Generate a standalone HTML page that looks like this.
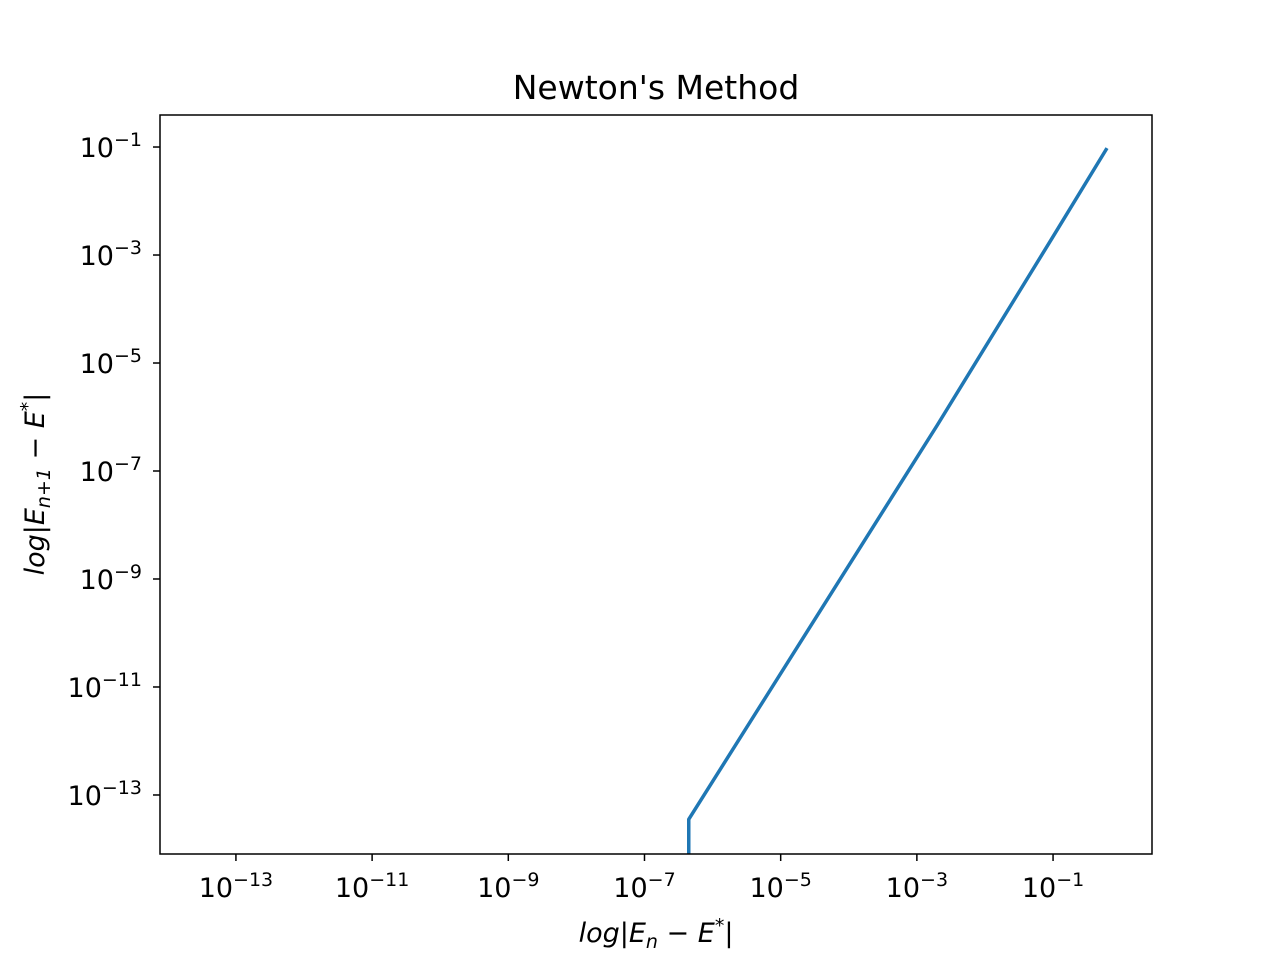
<!DOCTYPE html>
<html><head><meta charset="utf-8"><style>
body{margin:0;background:#fff;}
svg text{font-family:"DejaVu Sans","Liberation Sans",sans-serif;fill:#000;}
</style></head><body>
<svg id="chart" width="1280" height="960" xmlns="http://www.w3.org/2000/svg">
<defs><clipPath id="clip"><rect x="160" y="115" width="992" height="739"/></clipPath></defs>
<rect width="1280" height="960" fill="#fff"/>
<text x="656" y="99" font-size="33" text-anchor="middle">Newton's Method</text>
<g id="xticks"></g><g id="yticks"></g>
<polyline id="line" clip-path="url(#clip)" fill="none" stroke="#1f77b4" stroke-width="3.5" stroke-linejoin="round"/>
<rect x="160" y="115" width="992" height="739" fill="none" stroke="#000" stroke-width="1.5"/>
<text x="656" y="942" font-size="27" text-anchor="middle" font-style="italic">log|E<tspan font-size="19" dy="6">n</tspan><tspan dy="-6"> − E</tspan><tspan font-size="19" dy="-10">*</tspan><tspan dy="10">|</tspan></text>
<text transform="translate(44,484) rotate(-90)" font-size="27" text-anchor="middle" font-style="italic">log|E<tspan font-size="19" dy="6">n+1</tspan><tspan dy="-6"> − E</tspan><tspan font-size="19" dy="-10">*</tspan><tspan dy="10">|</tspan></text>
</svg>
<script>
const xTickExps=[-13,-11,-9,-7,-5,-3,-1];
const yTickExps=[-1,-3,-5,-7,-9,-11,-13];
const logEn=[-0.208,-1.02,-2.7,-6.35,-6.35];
const logEn1=[-1.02,-2.7,-6.15,-13.45,-16];
const xMin=-14.115,xMax=0.453,yMin=-14.093,yMax=-0.407;
const L=160,R=1152,T=115,B=854;
function sx(v){return L+(v-xMin)/(xMax-xMin)*(R-L);}
function sy(v){return B-(v-yMin)/(yMax-yMin)*(B-T);}
const NS='http://www.w3.org/2000/svg';
const xg=document.getElementById('xticks'),yg=document.getElementById('yticks');
function lab(g,x,y,e,anchor){
  const t=document.createElementNS(NS,'text');
  
  
  t.setAttribute('x',x);t.setAttribute('y',y);t.setAttribute('font-size','27');t.setAttribute('text-anchor',anchor);
  t.innerHTML='10<tspan font-size="19" dy="-11">\u2212'+Math.abs(e)+'</tspan>';
  g.appendChild(t);
}
xTickExps.forEach(e=>{
  const x=sx(e);
  const l=document.createElementNS(NS,'line');
  
  
  l.setAttribute('x1',x);l.setAttribute('x2',x);l.setAttribute('y1',B);l.setAttribute('y2',B+7);l.setAttribute('stroke','#000');l.setAttribute('stroke-width','1.5');
  xg.appendChild(l);
  lab(xg,x,897,e,'middle');
});
yTickExps.forEach(e=>{
  const y=sy(e);
  const l=document.createElementNS(NS,'line');
  
  
  l.setAttribute('x1',L-7);l.setAttribute('x2',L);l.setAttribute('y1',y);l.setAttribute('y2',y);l.setAttribute('stroke','#000');l.setAttribute('stroke-width','1.5');
  yg.appendChild(l);
  lab(yg,142,y+10,e,'end');
});
document.getElementById('line').setAttribute('points',logEn.map((v,i)=>sx(v)+','+sy(logEn1[i])).join(' '));
</script>
</body></html>
